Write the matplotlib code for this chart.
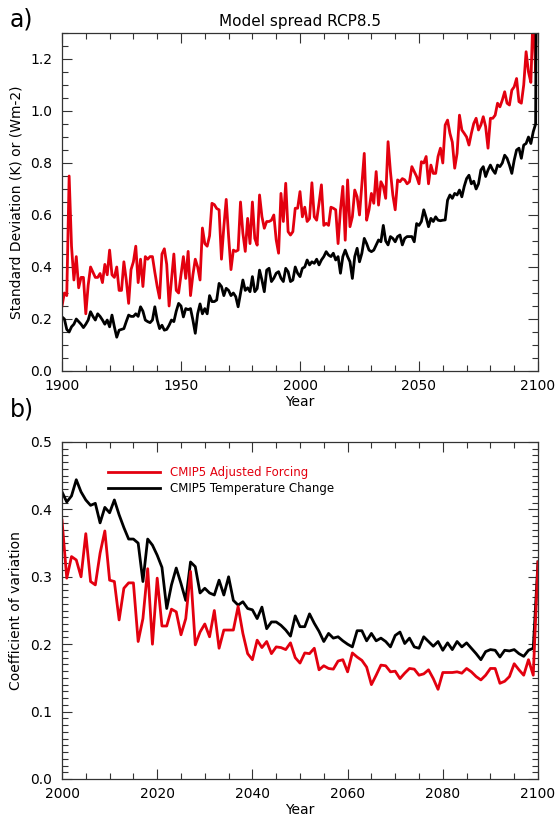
import numpy as np
import matplotlib
matplotlib.use("Agg")
import matplotlib.pyplot as plt
from matplotlib.ticker import MultipleLocator

plt.rcParams['font.family'] = ['DejaVu Sans']

# ---------------- data ----------------
years_a = np.arange(1900, 2101)
forcing_sd = [
    0.25, 0.30, 0.29, 0.75, 0.48, 0.35, 0.44, 0.32, 0.36, 0.36,
    0.22, 0.33, 0.40, 0.38, 0.36, 0.36, 0.375, 0.34, 0.41, 0.37,
    0.465, 0.37, 0.36, 0.40, 0.31, 0.31, 0.42, 0.35, 0.26, 0.39,
    0.42, 0.48, 0.34, 0.43, 0.325, 0.44, 0.43, 0.44, 0.44, 0.38,
    0.325, 0.28, 0.45, 0.47, 0.41, 0.25, 0.35, 0.45, 0.31, 0.30,
    0.37, 0.44, 0.356, 0.46, 0.29, 0.37, 0.43, 0.40, 0.35, 0.55,
    0.49, 0.48, 0.52, 0.645, 0.64, 0.625, 0.62, 0.43, 0.555, 0.66,
    0.517, 0.39, 0.465, 0.46, 0.465, 0.65, 0.53, 0.46, 0.587, 0.49,
    0.65, 0.51, 0.484, 0.677, 0.594, 0.549, 0.575, 0.575, 0.58, 0.60,
    0.504, 0.453, 0.683, 0.575, 0.722, 0.536, 0.523, 0.536, 0.626, 0.626,
    0.69, 0.593, 0.63, 0.575, 0.586, 0.724, 0.593, 0.58, 0.645, 0.716,
    0.56, 0.568, 0.56, 0.63, 0.626, 0.62, 0.49, 0.62, 0.71, 0.503,
    0.735, 0.555, 0.593, 0.696, 0.67, 0.60, 0.72, 0.837, 0.58, 0.62,
    0.683, 0.645, 0.767, 0.638, 0.728, 0.71, 0.664, 0.882, 0.767, 0.677,
    0.62, 0.735, 0.728, 0.74, 0.735, 0.72, 0.728, 0.786, 0.767, 0.748,
    0.72, 0.805, 0.80, 0.825, 0.72, 0.792, 0.76, 0.76, 0.825, 0.857,
    0.80, 0.946, 0.965, 0.914, 0.88, 0.78, 0.837, 0.984, 0.927, 0.914,
    0.90, 0.869, 0.914, 0.952, 0.972, 0.927, 0.946, 0.978, 0.94, 0.857,
    0.972, 0.972, 0.984, 1.03, 1.016, 1.042, 1.074, 1.03, 1.023, 1.08,
    1.093, 1.125, 1.036, 1.03, 1.10, 1.228, 1.15, 1.11, 1.40, 1.15,
    3.0,
]
temp_sd = [
    0.208, 0.20, 0.16, 0.15, 0.17, 0.18, 0.20, 0.19, 0.18, 0.167,
    0.18, 0.196, 0.228, 0.21, 0.196, 0.22, 0.21, 0.196, 0.18, 0.196,
    0.17, 0.215, 0.17, 0.13, 0.157, 0.16, 0.163, 0.19, 0.215, 0.21,
    0.21, 0.22, 0.21, 0.247, 0.23, 0.196, 0.19, 0.186, 0.196, 0.247,
    0.196, 0.163, 0.176, 0.157, 0.16, 0.176, 0.196, 0.19, 0.23, 0.26,
    0.25, 0.208, 0.24, 0.236, 0.24, 0.196, 0.145, 0.22, 0.258, 0.22,
    0.24, 0.22, 0.29, 0.267, 0.267, 0.273, 0.337, 0.325, 0.29, 0.318,
    0.31, 0.29, 0.30, 0.286, 0.247, 0.298, 0.35, 0.31, 0.32, 0.305,
    0.363, 0.305, 0.317, 0.388, 0.35, 0.305, 0.388, 0.395, 0.344, 0.357,
    0.376, 0.382, 0.357, 0.344, 0.395, 0.382, 0.344, 0.35, 0.40, 0.376,
    0.363, 0.395, 0.40, 0.427, 0.408, 0.42, 0.414, 0.43, 0.408, 0.427,
    0.44, 0.459, 0.446, 0.44, 0.453, 0.427, 0.44, 0.376, 0.44, 0.465,
    0.44, 0.42, 0.356, 0.44, 0.472, 0.42, 0.453, 0.51, 0.49, 0.465,
    0.459, 0.465, 0.485, 0.504, 0.497, 0.56, 0.50, 0.485, 0.517, 0.51,
    0.497, 0.517, 0.523, 0.485, 0.51, 0.517, 0.517, 0.517, 0.497, 0.567,
    0.56, 0.575, 0.62, 0.59, 0.555, 0.587, 0.575, 0.593, 0.58, 0.578,
    0.58, 0.581, 0.657, 0.677, 0.664, 0.683, 0.677, 0.696, 0.67, 0.71,
    0.74, 0.753, 0.72, 0.73, 0.70, 0.72, 0.773, 0.786, 0.748, 0.773,
    0.792, 0.773, 0.76, 0.792, 0.786, 0.80, 0.83, 0.818, 0.792, 0.76,
    0.811, 0.85, 0.857, 0.818, 0.869, 0.875, 0.90, 0.875, 0.92, 0.95,
    3.0,
]

years_b = np.arange(2000, 2101)
forcing_cv = [
    0.384, 0.298, 0.33, 0.325, 0.30, 0.364, 0.293, 0.288, 0.335, 0.368,
    0.295, 0.293, 0.236, 0.283, 0.291, 0.291, 0.204, 0.238, 0.312, 0.20,
    0.298, 0.227, 0.227, 0.252, 0.248, 0.214, 0.238, 0.308, 0.199, 0.218,
    0.23, 0.211, 0.25, 0.194, 0.221, 0.221, 0.221, 0.256, 0.216, 0.186,
    0.177, 0.206, 0.195, 0.204, 0.186, 0.196, 0.195, 0.192, 0.202, 0.18,
    0.172, 0.187, 0.186, 0.194, 0.162, 0.168, 0.164, 0.163, 0.175, 0.177,
    0.159, 0.187, 0.181, 0.176, 0.166, 0.14, 0.154, 0.169, 0.168, 0.159,
    0.16, 0.149, 0.157, 0.164, 0.163, 0.154, 0.156, 0.162, 0.149, 0.133,
    0.158, 0.158, 0.158, 0.159, 0.157, 0.164, 0.159, 0.152, 0.147, 0.154,
    0.164, 0.164, 0.142, 0.145, 0.152, 0.171, 0.162, 0.154, 0.177, 0.154,
    0.322,
]
temp_cv = [
    0.426, 0.411, 0.42, 0.444, 0.426, 0.414, 0.406, 0.409, 0.38, 0.403,
    0.395, 0.414, 0.392, 0.373, 0.356, 0.356, 0.35, 0.293, 0.356, 0.347,
    0.332, 0.314, 0.253, 0.288, 0.313, 0.29, 0.265, 0.322, 0.315, 0.276,
    0.283, 0.276, 0.273, 0.295, 0.273, 0.30, 0.265, 0.258, 0.263, 0.253,
    0.251, 0.238, 0.255, 0.223, 0.233, 0.233, 0.228, 0.221, 0.212, 0.242,
    0.226, 0.226, 0.245, 0.231, 0.219, 0.204, 0.216, 0.209, 0.211, 0.205,
    0.20, 0.196, 0.22, 0.22, 0.205, 0.216, 0.205, 0.209, 0.204, 0.196,
    0.213, 0.218, 0.201, 0.209, 0.196, 0.194, 0.211, 0.204, 0.197, 0.204,
    0.191, 0.202, 0.192, 0.204, 0.196, 0.202, 0.194, 0.186, 0.177, 0.189,
    0.192, 0.191, 0.181, 0.191, 0.19, 0.192, 0.186, 0.182, 0.191, 0.194,
    0.322,
]

labels = ["CMIP5 Adjusted Forcing", "CMIP5 Temperature Change"]
RED = "#e3000f"
BLACK = "#000000"

# ---------------- figure ----------------
fig = plt.figure(figsize=(5.56, 8.19), dpi=100)
ax1 = fig.add_axes([62/556, 1-371/819, 476/556, 338/819])
ax2 = fig.add_axes([62/556, 1-779/819, 476/556, 337/819])

lw = 2.0
ax1.plot(years_a, forcing_sd, color=RED, lw=lw)
ax1.plot(years_a, temp_sd, color=BLACK, lw=lw)
ax1.set_xlim(1900, 2100)
ax1.set_ylim(0, 1.3)
ax1.xaxis.set_major_locator(MultipleLocator(50))
ax1.xaxis.set_minor_locator(MultipleLocator(10))
ax1.yaxis.set_minor_locator(MultipleLocator(0.05))
ax1.set_yticks(np.arange(0, 1.21, 0.2))
ax1.set_xlabel("Year", fontsize=10, labelpad=1)
ax1.set_ylabel("Standard Deviation (K) or (Wm-2)", fontsize=10, labelpad=5)
ax1.set_title("Model spread RCP8.5", fontsize=11, pad=5)

lb, = ax2.plot(years_b, temp_cv, color=BLACK, lw=lw)
lr, = ax2.plot(years_b, forcing_cv, color=RED, lw=lw)
ax2.set_xlim(2000, 2100)
ax2.set_ylim(0, 0.5)
ax2.xaxis.set_major_locator(MultipleLocator(20))
ax2.xaxis.set_minor_locator(MultipleLocator(5))
ax2.yaxis.set_major_locator(MultipleLocator(0.1))
ax2.yaxis.set_minor_locator(MultipleLocator(0.01))
ax2.set_xlabel("Year", fontsize=10, labelpad=1)
ax2.set_ylabel("Coefficient of variation", fontsize=10, labelpad=5)
ax2.legend([lr, lb], labels, loc="upper left", bbox_to_anchor=(0.085, 0.945),
           frameon=False, fontsize=8.5, handlelength=4.4, handletextpad=0.8,
           labelspacing=0.2, borderpad=0, labelcolor="linecolor")

for ax in (ax1, ax2):
    ax.yaxis.set_major_formatter(matplotlib.ticker.FormatStrFormatter('%.1f'))
    ax.tick_params(which="both", direction="in", top=True, right=True,
                   labelsize=10, color="#333333")
    ax.tick_params(which="major", length=7, width=0.8)
    ax.tick_params(which="minor", length=4, width=0.8)
    ax.tick_params(axis="x", which="major", pad=6)
    ax.tick_params(axis="y", which="major", pad=7)
    for s in ax.spines.values():
        s.set_color("#333333")
        s.set_linewidth(0.9)

fig.text(10/556, 1-20/819, "a)", fontsize=17, va="center", ha="left")
fig.text(10/556, 1-410/819, "b)", fontsize=17, va="center", ha="left")

fig.savefig("out.png", dpi=100)
